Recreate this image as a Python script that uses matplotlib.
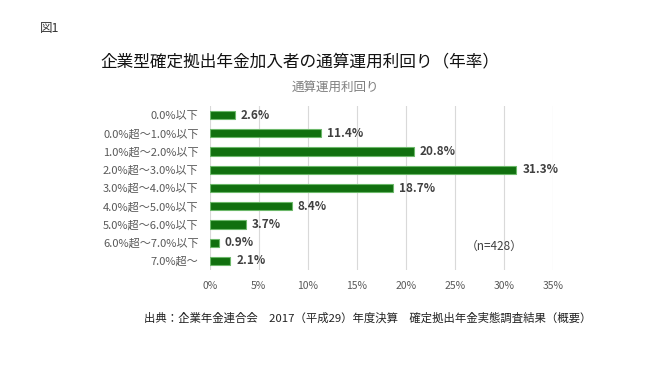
import matplotlib
matplotlib.use("Agg")
import matplotlib.pyplot as plt
import numpy as np

plt.rcParams['font.family'] = ['Noto Sans CJK JP', 'DejaVu Sans']

categories = ["0.0%以下", "0.0%超～1.0%以下", "1.0%超～2.0%以下", "2.0%超～3.0%以下",
              "3.0%超～4.0%以下", "4.0%超～5.0%以下", "5.0%超～6.0%以下",
              "6.0%超～7.0%以下", "7.0%超～"]
values = [2.6, 11.4, 20.8, 31.3, 18.7, 8.4, 3.7, 0.9, 2.1]
xticks = [0, 5, 10, 15, 20, 25, 30, 35]

fig = plt.figure(figsize=(6.7, 3.76), dpi=100)
ax = fig.add_axes([0.313, 0.282, 0.512, 0.436])

y = np.arange(len(categories))
ax.barh(y, values, height=0.45, color='#11700f', edgecolor='#6cb86a', linewidth=0.8, zorder=3)
for yi, v in zip(y, values):
    ax.text(v + 0.6, yi, f"{v}%", va='center', ha='left', fontsize=8.5,
            fontweight='bold', color='#404040')

ax.set_yticks(y)
ax.set_yticklabels(categories, fontsize=8, color='#595959')
ax.set_ylim(len(categories) - 0.5, -0.5)
ax.set_xlim(0, 35)
ax.set_xticks(xticks)
ax.set_xticklabels([f"{t}%" for t in xticks], fontsize=7.5, color='#595959')
ax.tick_params(length=0, pad=8)
ax.grid(axis='x', color='#d9d9d9', linewidth=0.8, zorder=0)
for s in ax.spines.values():
    s.set_visible(False)

ax.text(29.0, 7.2, "（n=428）", fontsize=8.5, color='#404040', ha='center', va='center')

fig.text(0.06, 0.925, "図1", fontsize=9, color='#333333', va='center')
fig.text(0.15, 0.835, "企業型確定拠出年金加入者の通算運用利回り（年率）", fontsize=12,
         color='#111111', va='center')
fig.text(0.50, 0.768, "通算運用利回り", fontsize=9, color='#7f7f7f', ha='center', va='center')
fig.text(0.215, 0.155, "出典：企業年金連合会　2017（平成29）年度決算　確定拠出年金実態調査結果（概要）",
         fontsize=8.2, color='#222222', va='center')

fig.savefig("out.png", dpi=100)
